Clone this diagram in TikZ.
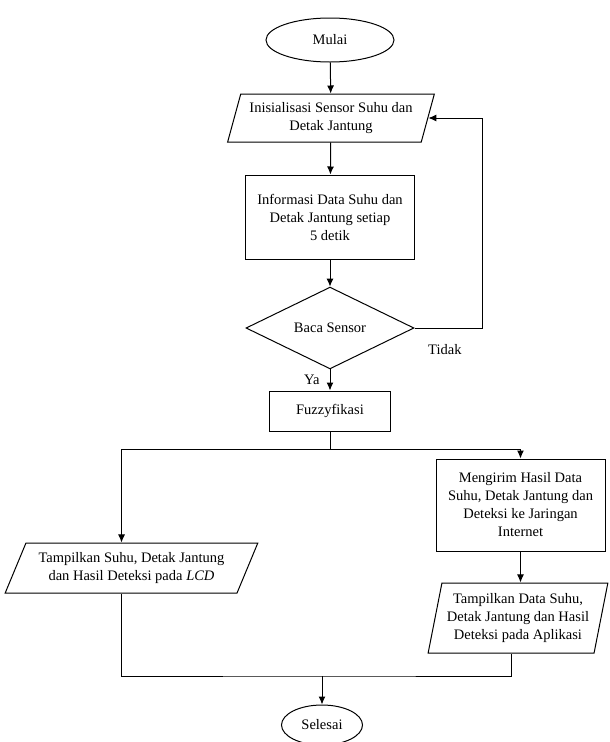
\documentclass[tikz,border=0pt]{standalone}
\usepackage{fontspec}
\setmainfont{Liberation Serif}
\usepackage{tikz}
\usetikzlibrary{arrows.meta,shapes.geometric,positioning}

\begin{document}
\begin{tikzpicture}
	[
	 x = 1pt,
	 y = -1pt,
	 line width = 1pt,
	 every node/.style = {align=center,
	                      font=\fontsize{14.5}{18}\selectfont,
	                      inner sep = 2pt
	                     },
	 TM/.style = {shape=ellipse, draw},
	 IO/.style = {shape=trapezium, draw,
	              trapezium stretches = true},
	 PR/.style = {shape=rectangle, draw},
	 DC/.style = {shape=diamond, draw, inner sep = 0pt},
	 AR/.style = {-{Latex[length=8pt,width=7pt]}}
	]

	\newcommand{\INS}{Inisialisasi Sensor Suhu dan\\ Detak Jantung}
	\newcommand{\INF}{Informasi Data Suhu dan\\ Detak Jantung setiap\\ 5 detik}
	\newcommand{\KRM}{Mengirim Hasil Data\\ Suhu, Detak Jantung dan\\
		Deteksi ke Jaringan\\ Internet}
	\newcommand{\TLCD}{Tampilkan Suhu, Detak Jantung\\
		dan Hasil Deteksi pada \textit{LCD}}
	\newcommand{\TAPL}{Tampilkan Data Suhu,\\ Detak Jantung dan Hasil\\
		Deteksi pada Aplikasi}

	\useasboundingbox (0,0) rectangle (610,742);

	\node [TM, minimum width = 128, minimum height = 44] (mulai) at (330,40) {Mulai};
	\node [IO, trapezium left angle = 71, trapezium right angle = 109,
	       minimum width = 207, minimum height = 48] (init) at (331,118) {\INS};
	\node [PR, minimum width = 169, minimum height = 84] (info) at (330,217) {\INF};
	\node [DC, minimum width = 168, minimum height = 71] (baca) at (330,328) {Baca Sensor};
	\node [PR, minimum width = 121, minimum height = 40] (fuzzy) at (330,411) {Fuzzyfikasi};
	\node [PR, minimum width = 169, minimum height = 92] (kirim) at (520.5,505) {\KRM};
	\node [IO, trapezium left angle = 62, trapezium right angle = 118,
	       minimum width = 253, minimum height = 50] (lcd) at (131.5,568) {\TLCD};
	\node [IO, trapezium left angle = 76, trapezium right angle = 104,
	       minimum width = 180, minimum height = 70] (apl) at (518,618) {\TAPL};
	\node [TM, minimum width = 81, minimum height = 40] (selesai) at (322,725) {Selesai};

	\coordinate (loop)  at (482,328);
	\coordinate (split) at (330,449);
	\coordinate (join)  at (322,676);

	\draw [AR] (mulai) -- (init);
	\draw [AR] (init)  -- (info);
	\draw [AR] (info)  -- (baca);
	\draw [AR] (baca.east) -- node [pos = .45, below = 14pt] {Tidak} (loop) |- (init.east);
	\draw [AR] (baca) -- node [left = 8pt] {Ya} (fuzzy);
	\draw (fuzzy) -- (split);
	\draw [AR] (split) -| ([xshift=-10pt]lcd.north);
	\draw [AR] (split) -| (kirim.north);
	\draw [AR] (kirim.south) -- (kirim.south |- apl.north);
	\draw ([xshift=-10pt]lcd.south) |- (join) -| ([xshift=-7pt]apl.south);
	\draw [AR] (join) -- (selesai);
\end{tikzpicture}
\end{document}
